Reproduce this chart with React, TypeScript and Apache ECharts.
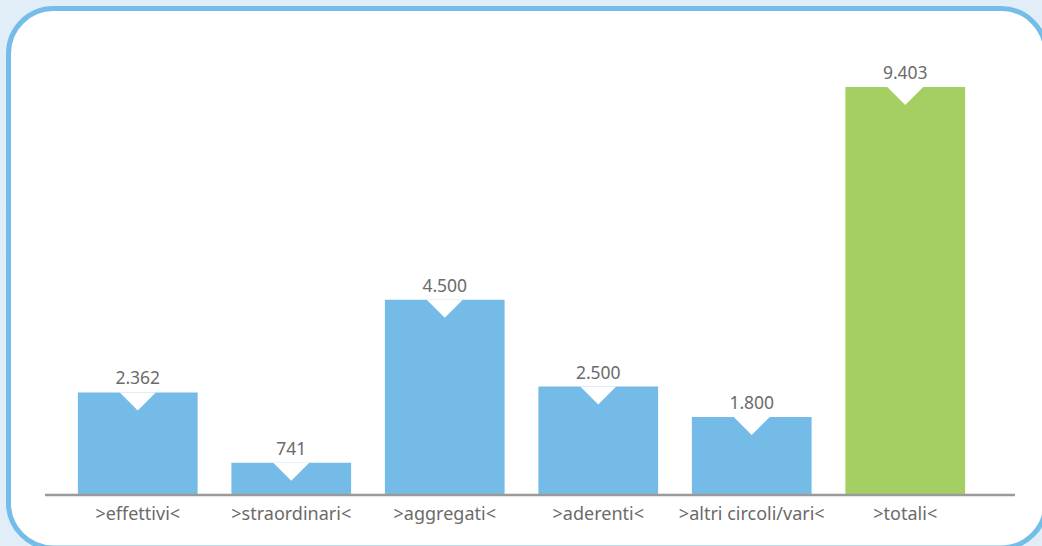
import React, { useEffect, useRef } from "react";
import * as echarts from "echarts";

const categories = [">effettivi<", ">straordinari<", ">aggregati<", ">aderenti<", ">altri circoli/vari<", ">totali<"];
const values = [2362, 741, 4500, 2500, 1800, 9403];
const barColors = ["#74bbe7", "#74bbe7", "#74bbe7", "#74bbe7", "#74bbe7", "#a5ce63"];

const fmt = (v: number) => String(v).replace(/\B(?=(\d{3})+(?!\d))/g, ".");

export default function App() {
  const ref = useRef<HTMLDivElement>(null);
  useEffect(() => {
    if (!ref.current) return;
    const chart = echarts.init(ref.current, null, { renderer: "svg" });
    const font = "Noto Sans";
    chart.setOption({
      animation: false,
      backgroundColor: "#e1eef8",
      textStyle: { fontFamily: font },
      graphic: [
        {
          type: "rect",
          z: -10,
          shape: { x: 8.5, y: 8.5, width: 1037.5, height: 539.5, r: 45 },
          style: { fill: "#ffffff", stroke: "#74bde8", lineWidth: 5 },
        },
        {
          type: "line",
          z: 10,
          shape: { x1: 45, y1: 495, x2: 1015, y2: 495 },
          style: { stroke: "#9a9a9a", lineWidth: 2.5 },
        },
      ],
      grid: { left: 61, right: 60, top: 61, bottom: 51 },
      xAxis: {
        type: "category",
        data: categories,
        axisLine: { show: false },
        axisTick: { show: false },
        axisLabel: { color: "#6b6b6b", fontSize: 18, margin: 9, fontFamily: font, interval: 0 },
      },
      yAxis: {
        type: "value",
        min: 0,
        max: 10000,
        show: false,
        splitLine: { show: false },
      },
      series: [
        {
          type: "bar",
          barCategoryGap: "22%",
          data: values.map((v, i) => ({ value: v, itemStyle: { color: barColors[i] } })),
          label: {
            show: true,
            position: "top",
            distance: 6,
            color: "#6b6b6b",
            fontSize: 17.5,
            fontFamily: font,
            formatter: (p: any) => fmt(p.value),
          },
        },
        {
          type: "scatter",
          data: values,
          symbol: "triangle",
          symbolRotate: 180,
          symbolSize: [36, 18],
          symbolOffset: [0, 9],
          itemStyle: { color: "#ffffff", opacity: 1 },
          z: 5,
          silent: true,
        },
      ],
    });
    return () => chart.dispose();
  }, []);
  return (
    <div
      ref={ref}
      style={{ position: "absolute", left: 0, top: 0, width: 1042, height: 546 }}
    />
  );
}
